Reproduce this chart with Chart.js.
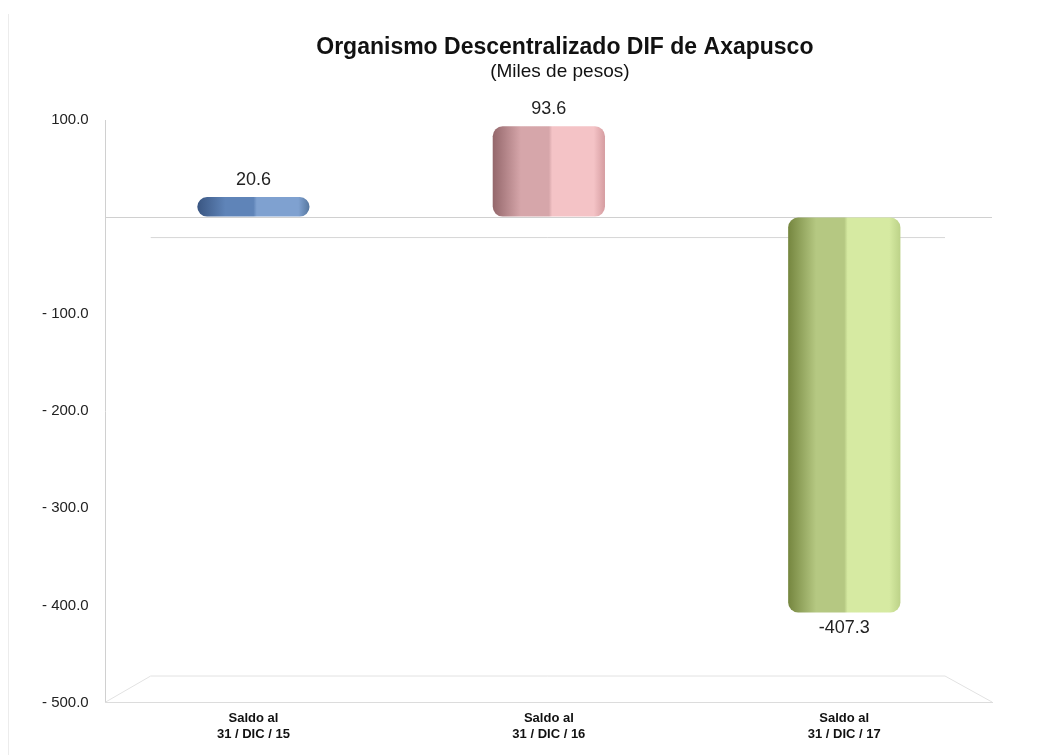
<!DOCTYPE html>
<html>
<head>
<meta charset="utf-8">
<script src="https://cdn.jsdelivr.net/npm/chart.js@4"></script>
<style>
  html, body { margin: 0; padding: 0; background: #fff; }
  #wrap { position: relative; width: 1052px; height: 755px; }
  #wrap:before { content: ''; position: absolute; left: 8px; top: 14px; bottom: 0; border-left: 1px solid #ececec; }
</style>
</head>
<body>
<div id="wrap"><canvas id="chart" width="1052" height="755"></canvas></div>
<script>
// chart data
const categories = [['Saldo al', '31 / DIC / 15'], ['Saldo al', '31 / DIC / 16'], ['Saldo al', '31 / DIC / 17']];
const saldos = [20.6, 93.6, -407.3];
const yTicks = [100, 0, -100, -200, -300, -400, -500];
const titleText = 'Organismo Descentralizado DIF de Axapusco';
const subtitleText = '(Miles de pesos)';

// cylinder colours: dark edge, mid, highlight, right edge
const barShades = [
    ['#3a5682', '#5f84b8', '#7fa1d0', '#56779f'],
    ['#94676b', '#d6a6aa', '#f4c3c6', '#d59ca0'],
    ['#75863f', '#b5c882', '#d6eaa2', '#bcd288']
];

const fmt = v => {
    if (v === 0) return '';
    const s = Math.abs(v).toFixed(1);
    return v < 0 ? '- ' + s : s;
};

// horizontal gradient on each bar so it looks like a cylinder
const cylinderFill = {
    id: 'cylinderFill',
    beforeDatasetsDraw(chart) {
        const ctx = chart.ctx;
        chart.getDatasetMeta(0).data.forEach((bar, i) => {
            const left = bar.x - bar.width / 2;
            const g = ctx.createLinearGradient(left, 0, left + bar.width, 0);
            const c = barShades[i];
            g.addColorStop(0, c[0]);
            g.addColorStop(0.25, c[1]);
            g.addColorStop(0.5, c[1]);
            g.addColorStop(0.53, c[2]);
            g.addColorStop(0.9, c[2]);
            g.addColorStop(1, c[3]);
            bar.options.backgroundColor = g;
        });
    }
};

// title, value labels and the 3D-ish floor / front zero line
const extras = {
    id: 'extras',
    beforeDraw(chart) {
        const ctx = chart.ctx;
        const a = chart.chartArea;
        const cx = (a.left + a.right) / 2 + 16;
        ctx.save();
        ctx.fillStyle = '#111';
        ctx.textAlign = 'center';
        ctx.textBaseline = 'middle';
        ctx.font = 'bold 23px "Liberation Sans", Arial, sans-serif';
        ctx.fillText(titleText, cx, 48);
        ctx.font = '19px "Liberation Sans", Arial, sans-serif';
        ctx.fillText(subtitleText, cx - 5, 72);
        ctx.restore();
    },
    beforeDatasetsDraw(chart) {
        const ctx = chart.ctx;
        const y = chart.scales.y;
        const a = chart.chartArea;
        const zero = y.getPixelForValue(0);
        ctx.save();
        ctx.strokeStyle = '#d6d6d6';
        ctx.lineWidth = 1;
        ctx.beginPath();
        ctx.moveTo(a.left + 45, zero + 20.5);
        ctx.lineTo(a.right - 47, zero + 20.5);
        ctx.stroke();
        // floor
        const bottom = y.getPixelForValue(-500);
        const back = bottom - 27;
        ctx.strokeStyle = '#e2e2e2';
        ctx.beginPath();
        ctx.moveTo(a.left, bottom - 0.5);
        ctx.lineTo(a.left + 45, back + 0.5);
        ctx.lineTo(a.right - 47, back + 0.5);
        ctx.lineTo(a.right, bottom - 0.5);
        ctx.stroke();
        ctx.restore();
    },
    afterDatasetsDraw(chart) {
        const ctx = chart.ctx;
        ctx.save();
        ctx.font = '18px "Liberation Sans", Arial, sans-serif';
        ctx.fillStyle = '#222';
        ctx.textAlign = 'center';
        ctx.textBaseline = 'middle';
        chart.getDatasetMeta(0).data.forEach((bar, i) => {
            const v = saldos[i];
            const ty = v >= 0 ? bar.y - 17 : bar.y + 16;
            ctx.fillText(v.toFixed(1), bar.x, ty);
        });
        ctx.restore();
    }
};

new Chart(document.getElementById('chart'), {
    type: 'bar',
    data: {
        labels: categories,
        datasets: [{
            data: saldos,
            backgroundColor: barShades.map(c => c[1]),
            borderWidth: 0,
            borderRadius: 10,
            borderSkipped: false,
            barPercentage: 0.38,
            categoryPercentage: 1
        }]
    },
    options: {
        responsive: false,
        animation: false,
        layout: { padding: { left: 25, right: 60, top: 120, bottom: 4 } },
        plugins: {
            legend: { display: false },
            tooltip: { enabled: false },
            title: { display: false }
        },
        scales: {
            y: {
                min: -500,
                max: 100,
                afterBuildTicks: axis => { axis.ticks = yTicks.map(v => ({ value: v })); },
                ticks: {
                    callback: v => fmt(v),
                    color: '#222',
                    padding: 17,
                    font: { family: '"Liberation Sans", Arial, sans-serif', size: 15 }
                },
                grid: {
                    drawTicks: false,
                    color: c => (c.tick && c.tick.value === 0) ? '#d0d0d0' : 'rgba(0,0,0,0)'
                },
                border: { display: true, color: '#d0d0d0' }
            },
            x: {
                ticks: {
                    color: '#111',
                    padding: 8,
                    font: { family: '"Liberation Sans Narrow", "Liberation Sans", Arial, sans-serif', size: 13, weight: 'bold', lineHeight: 1.25 }
                },
                grid: { display: false, drawTicks: false },
                border: { display: true, color: '#dcdcdc' }
            }
        }
    },
    plugins: [cylinderFill, extras]
});
</script>
</body>
</html>
